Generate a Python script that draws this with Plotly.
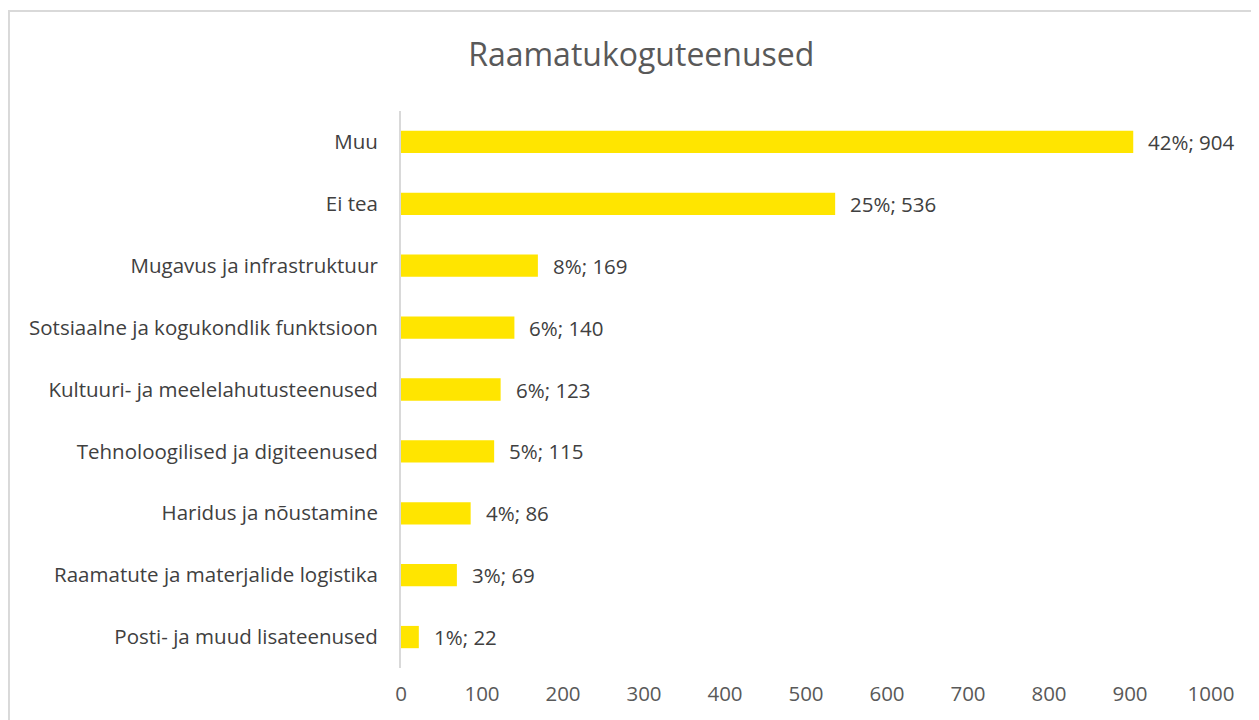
import plotly.graph_objects as go

categories = ['Muu', 'Ei tea', 'Mugavus ja infrastruktuur',
              'Sotsiaalne ja kogukondlik funktsioon', 'Kultuuri- ja meelelahutusteenused',
              'Tehnoloogilised ja digiteenused', 'Haridus ja nõustamine',
              'Raamatute ja materjalide logistika', 'Posti- ja muud lisateenused']
counts = [904, 536, 169, 140, 123, 115, 86, 69, 22]
percents = [42, 25, 8, 6, 6, 5, 4, 3, 1]

fig = go.Figure()
fig.add_trace(go.Bar(
    x=counts, y=categories, orientation='h',
    marker=dict(color='#FFE500', line=dict(width=0)),
    width=0.36,
    hoverinfo='skip',
))

# value labels right of each bar
for c, n, p in zip(categories, counts, percents):
    fig.add_annotation(x=n, y=c, text=f'{p}%; {n}', showarrow=False,
                       xanchor='left', xshift=13,
                       font=dict(size=20.5, color='#404040'))

# chart border like the Excel chart area
fig.add_shape(type='rect', xref='paper', yref='paper',
              x0=-0.4840, x1=1.2, y0=-0.3, y1=1.1795,
              line=dict(color='#d9d9d9', width=2), layer='below')

fig.update_layout(
    width=1259, height=720,
    margin=dict(l=393, r=56, t=103, b=60),
    paper_bgcolor='white', plot_bgcolor='white',
    font=dict(family='Open Sans', size=20.5, color='#404040'),
    title=dict(text='Raamatukoguteenused', x=0.503, xanchor='center',
               y=0.935, yanchor='middle',
               font=dict(size=32, color='#595959')),
    showlegend=False,
    xaxis=dict(range=[0, 1000], dtick=100, showgrid=False, zeroline=False,
               showline=False, ticks='', ticklabelstandoff=11,
               tickfont=dict(size=20.5, color='#595959')),
    yaxis=dict(categoryorder='array', categoryarray=categories[::-1],
               showgrid=False, zeroline=False, showline=True,
               linecolor='#d9d9d9', linewidth=2, ticks='',
               ticklabelstandoff=17, tickfont=dict(size=20.5, color='#404040')),
)

fig.write_html('out.html')
